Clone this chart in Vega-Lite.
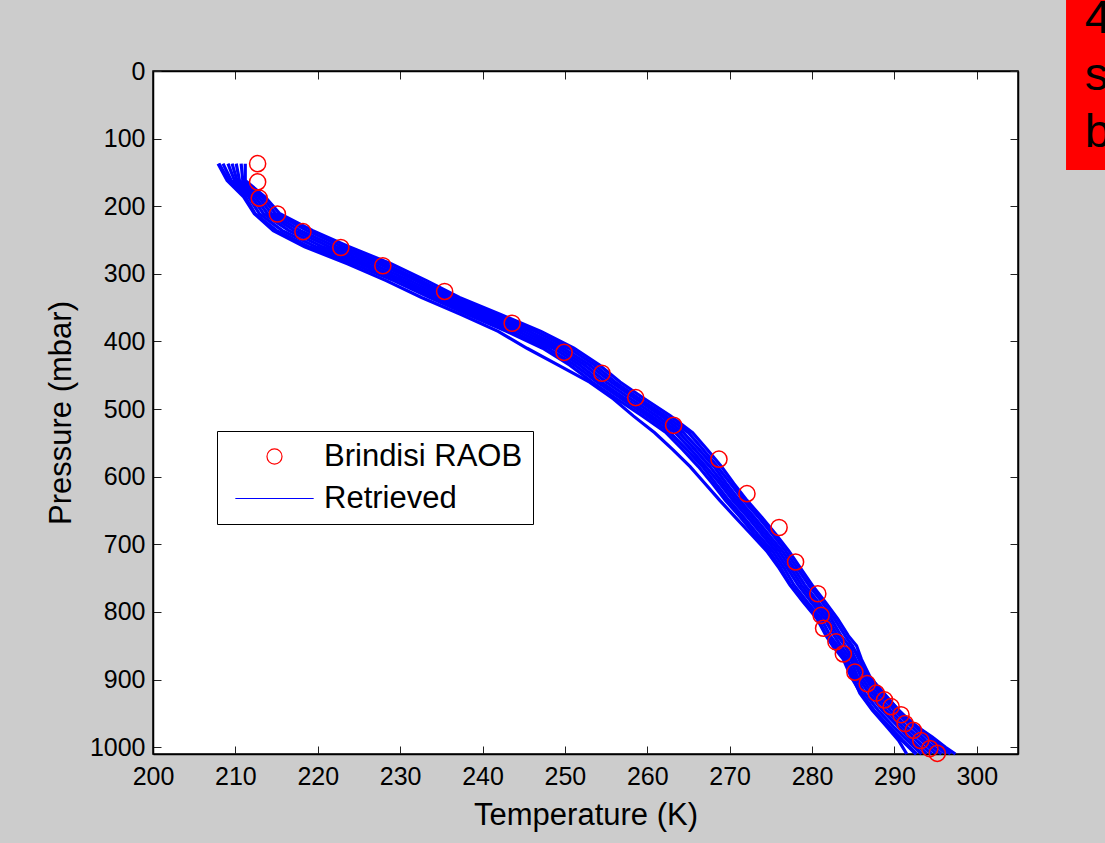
{
"$schema": "https://vega.github.io/schema/vega-lite/v6.json",
"width": 865, "height": 683,
"autosize": {"type": "none"},
"padding": {"left": 153, "top": 71, "right": 87, "bottom": 89},
"background": "#cccccc",
"config": {
  "view": {"fill": "white", "stroke": "black", "strokeWidth": 1.5},
  "font": "Liberation Sans",
  "axis": {"domainColor": "black", "domainWidth": 1.5, "tickColor": "#222222", "tickWidth": 1, "tickSize": -8, "labelFlush": false, "labelFont": "Liberation Sans", "labelFontSize": 25, "labelColor": "black", "titleFont": "Liberation Sans", "titleFontSize": 31, "titleFontWeight": "normal", "titleColor": "black", "grid": false, "zindex": 1},
  "legend": {"strokeColor": "black", "strokeWidth": 1, "fillColor": "white", "padding": 10, "labelFont": "Liberation Sans", "labelFontSize": 31, "labelColor": "black", "labelLimit": 0, "symbolSize": 227, "symbolStrokeWidth": 1.2, "rowPadding": 10, "symbolOffset": 32, "labelOffset": 34, "cornerRadius": 0}
},
"datasets": {
  "box": [{"t1": 310.83, "t2": 320, "p1": -110, "p2": 146.4}],
  "boxtext": [{"t": 313.1, "p": -56.2, "s": "4"}, {"t": 313.1, "p": 28.1, "s": "s"}, {"t": 313.1, "p": 112.4, "s": "b"}],
  "raob": [
    {"t": 212.7, "p": 137}, {"t": 212.7, "p": 164}, {"t": 212.9, "p": 188}, {"t": 215.1, "p": 211.5}, {"t": 218.2, "p": 237.6}, {"t": 222.8, "p": 261}, {"t": 227.9, "p": 288}, {"t": 235.4, "p": 326}, {"t": 243.6, "p": 373}, {"t": 249.9, "p": 416}, {"t": 254.5, "p": 447}, {"t": 258.6, "p": 483}, {"t": 263.2, "p": 524}, {"t": 268.7, "p": 574}, {"t": 272.1, "p": 625}, {"t": 276.0, "p": 675}, {"t": 278.0, "p": 726}, {"t": 280.7, "p": 773}, {"t": 281.1, "p": 805}, {"t": 281.4, "p": 824}, {"t": 282.9, "p": 844}, {"t": 283.8, "p": 862}, {"t": 285.2, "p": 889}, {"t": 286.7, "p": 906}, {"t": 287.8, "p": 920}, {"t": 288.8, "p": 930}, {"t": 289.6, "p": 940}, {"t": 290.8, "p": 952}, {"t": 291.3, "p": 965}, {"t": 292.3, "p": 975}, {"t": 293.2, "p": 990}, {"t": 294.3, "p": 1002}, {"t": 295.2, "p": 1009}
  ],
  "retrieved": [
    {"id": "L1", "p": 137, "t": 208.0}, {"id": "L1", "p": 162, "t": 209.2}, {"id": "L1", "p": 186, "t": 211.2}, {"id": "L1", "p": 211, "t": 212.4}, {"id": "L1", "p": 236, "t": 215.0}, {"id": "L1", "p": 260, "t": 219.0}, {"id": "L1", "p": 285, "t": 224.3}, {"id": "L1", "p": 310, "t": 229.2}, {"id": "L1", "p": 335, "t": 233.6}, {"id": "L1", "p": 360, "t": 238.2}, {"id": "L1", "p": 385, "t": 242.9}, {"id": "L1", "p": 410, "t": 247.3}, {"id": "L1", "p": 435, "t": 250.6}, {"id": "L1", "p": 460, "t": 253.3}, {"id": "L1", "p": 485, "t": 256.3}, {"id": "L1", "p": 510, "t": 259.4}, {"id": "L1", "p": 535, "t": 262.3}, {"id": "L1", "p": 560, "t": 264.3}, {"id": "L1", "p": 585, "t": 266.2}, {"id": "L1", "p": 610, "t": 267.9}, {"id": "L1", "p": 635, "t": 269.5}, {"id": "L1", "p": 660, "t": 271.3}, {"id": "L1", "p": 685, "t": 273.0}, {"id": "L1", "p": 710, "t": 274.8}, {"id": "L1", "p": 735, "t": 276.2}, {"id": "L1", "p": 760, "t": 277.4}, {"id": "L1", "p": 785, "t": 279.0}, {"id": "L1", "p": 810, "t": 280.7}, {"id": "L1", "p": 835, "t": 281.8}, {"id": "L1", "p": 850, "t": 282.6}, {"id": "L1", "p": 870, "t": 284.0}, {"id": "L1", "p": 895, "t": 284.8}, {"id": "L1", "p": 920, "t": 286.0}, {"id": "L1", "p": 945, "t": 287.5}, {"id": "L1", "p": 970, "t": 289.4}, {"id": "L1", "p": 990, "t": 291.0}, {"id": "L1", "p": 1010, "t": 292.7},
    {"id": "L2", "p": 137, "t": 208.5}, {"id": "L2", "p": 162, "t": 209.5}, {"id": "L2", "p": 186, "t": 211.6}, {"id": "L2", "p": 211, "t": 212.9}, {"id": "L2", "p": 236, "t": 215.7}, {"id": "L2", "p": 260, "t": 219.8}, {"id": "L2", "p": 285, "t": 225.1}, {"id": "L2", "p": 310, "t": 229.9}, {"id": "L2", "p": 335, "t": 234.2}, {"id": "L2", "p": 360, "t": 238.9}, {"id": "L2", "p": 385, "t": 243.6}, {"id": "L2", "p": 410, "t": 247.9}, {"id": "L2", "p": 435, "t": 251.2}, {"id": "L2", "p": 460, "t": 253.9}, {"id": "L2", "p": 485, "t": 256.9}, {"id": "L2", "p": 510, "t": 260.0}, {"id": "L2", "p": 535, "t": 262.8}, {"id": "L2", "p": 560, "t": 264.8}, {"id": "L2", "p": 585, "t": 266.7}, {"id": "L2", "p": 610, "t": 268.3}, {"id": "L2", "p": 635, "t": 269.9}, {"id": "L2", "p": 660, "t": 271.7}, {"id": "L2", "p": 685, "t": 273.4}, {"id": "L2", "p": 710, "t": 275.2}, {"id": "L2", "p": 735, "t": 276.6}, {"id": "L2", "p": 760, "t": 277.8}, {"id": "L2", "p": 785, "t": 279.4}, {"id": "L2", "p": 810, "t": 281.1}, {"id": "L2", "p": 835, "t": 282.2}, {"id": "L2", "p": 850, "t": 283.1}, {"id": "L2", "p": 870, "t": 284.3}, {"id": "L2", "p": 895, "t": 285.2}, {"id": "L2", "p": 920, "t": 286.4}, {"id": "L2", "p": 945, "t": 288.0}, {"id": "L2", "p": 970, "t": 289.9}, {"id": "L2", "p": 990, "t": 291.6}, {"id": "L2", "p": 1010, "t": 293.3},
    {"id": "L3", "p": 137, "t": 209.1}, {"id": "L3", "p": 162, "t": 209.9}, {"id": "L3", "p": 186, "t": 212.0}, {"id": "L3", "p": 211, "t": 213.4}, {"id": "L3", "p": 236, "t": 216.5}, {"id": "L3", "p": 260, "t": 220.6}, {"id": "L3", "p": 285, "t": 225.8}, {"id": "L3", "p": 310, "t": 230.5}, {"id": "L3", "p": 335, "t": 234.8}, {"id": "L3", "p": 360, "t": 239.5}, {"id": "L3", "p": 385, "t": 244.3}, {"id": "L3", "p": 410, "t": 248.6}, {"id": "L3", "p": 435, "t": 251.8}, {"id": "L3", "p": 460, "t": 254.4}, {"id": "L3", "p": 485, "t": 257.4}, {"id": "L3", "p": 510, "t": 260.5}, {"id": "L3", "p": 535, "t": 263.4}, {"id": "L3", "p": 560, "t": 265.3}, {"id": "L3", "p": 585, "t": 267.1}, {"id": "L3", "p": 610, "t": 268.8}, {"id": "L3", "p": 635, "t": 270.4}, {"id": "L3", "p": 660, "t": 272.2}, {"id": "L3", "p": 685, "t": 273.9}, {"id": "L3", "p": 710, "t": 275.6}, {"id": "L3", "p": 735, "t": 277.0}, {"id": "L3", "p": 760, "t": 278.3}, {"id": "L3", "p": 785, "t": 279.9}, {"id": "L3", "p": 810, "t": 281.5}, {"id": "L3", "p": 835, "t": 282.7}, {"id": "L3", "p": 850, "t": 283.5}, {"id": "L3", "p": 870, "t": 284.7}, {"id": "L3", "p": 895, "t": 285.5}, {"id": "L3", "p": 920, "t": 286.9}, {"id": "L3", "p": 945, "t": 288.5}, {"id": "L3", "p": 970, "t": 290.5}, {"id": "L3", "p": 990, "t": 292.1}, {"id": "L3", "p": 1010, "t": 293.9},
    {"id": "L4", "p": 137, "t": 209.6}, {"id": "L4", "p": 162, "t": 210.2}, {"id": "L4", "p": 186, "t": 212.4}, {"id": "L4", "p": 211, "t": 213.9}, {"id": "L4", "p": 236, "t": 217.2}, {"id": "L4", "p": 260, "t": 221.4}, {"id": "L4", "p": 285, "t": 226.6}, {"id": "L4", "p": 310, "t": 231.2}, {"id": "L4", "p": 335, "t": 235.4}, {"id": "L4", "p": 360, "t": 240.2}, {"id": "L4", "p": 385, "t": 245.0}, {"id": "L4", "p": 410, "t": 249.2}, {"id": "L4", "p": 435, "t": 252.4}, {"id": "L4", "p": 460, "t": 255.0}, {"id": "L4", "p": 485, "t": 258.0}, {"id": "L4", "p": 510, "t": 261.1}, {"id": "L4", "p": 535, "t": 263.9}, {"id": "L4", "p": 560, "t": 265.8}, {"id": "L4", "p": 585, "t": 267.6}, {"id": "L4", "p": 610, "t": 269.2}, {"id": "L4", "p": 635, "t": 270.8}, {"id": "L4", "p": 660, "t": 272.6}, {"id": "L4", "p": 685, "t": 274.3}, {"id": "L4", "p": 710, "t": 276.0}, {"id": "L4", "p": 735, "t": 277.4}, {"id": "L4", "p": 760, "t": 278.7}, {"id": "L4", "p": 785, "t": 280.3}, {"id": "L4", "p": 810, "t": 281.9}, {"id": "L4", "p": 835, "t": 283.1}, {"id": "L4", "p": 850, "t": 284.0}, {"id": "L4", "p": 870, "t": 285.0}, {"id": "L4", "p": 895, "t": 285.9}, {"id": "L4", "p": 920, "t": 287.3}, {"id": "L4", "p": 945, "t": 289.0}, {"id": "L4", "p": 970, "t": 291.0}, {"id": "L4", "p": 990, "t": 292.7}, {"id": "L4", "p": 1010, "t": 294.5},
    {"id": "L5", "p": 137, "t": 210.1}, {"id": "L5", "p": 162, "t": 210.5}, {"id": "L5", "p": 186, "t": 212.8}, {"id": "L5", "p": 211, "t": 214.4}, {"id": "L5", "p": 236, "t": 217.9}, {"id": "L5", "p": 260, "t": 222.2}, {"id": "L5", "p": 285, "t": 227.4}, {"id": "L5", "p": 310, "t": 231.9}, {"id": "L5", "p": 335, "t": 236.0}, {"id": "L5", "p": 360, "t": 240.9}, {"id": "L5", "p": 385, "t": 245.7}, {"id": "L5", "p": 410, "t": 249.8}, {"id": "L5", "p": 435, "t": 253.0}, {"id": "L5", "p": 460, "t": 255.6}, {"id": "L5", "p": 485, "t": 258.6}, {"id": "L5", "p": 510, "t": 261.7}, {"id": "L5", "p": 535, "t": 264.4}, {"id": "L5", "p": 560, "t": 266.3}, {"id": "L5", "p": 585, "t": 268.1}, {"id": "L5", "p": 610, "t": 269.6}, {"id": "L5", "p": 635, "t": 271.2}, {"id": "L5", "p": 660, "t": 273.0}, {"id": "L5", "p": 685, "t": 274.7}, {"id": "L5", "p": 710, "t": 276.4}, {"id": "L5", "p": 735, "t": 277.8}, {"id": "L5", "p": 760, "t": 279.1}, {"id": "L5", "p": 785, "t": 280.7}, {"id": "L5", "p": 810, "t": 282.3}, {"id": "L5", "p": 835, "t": 283.5}, {"id": "L5", "p": 850, "t": 284.5}, {"id": "L5", "p": 870, "t": 285.3}, {"id": "L5", "p": 895, "t": 286.3}, {"id": "L5", "p": 920, "t": 287.7}, {"id": "L5", "p": 945, "t": 289.5}, {"id": "L5", "p": 970, "t": 291.5}, {"id": "L5", "p": 990, "t": 293.3}, {"id": "L5", "p": 1010, "t": 295.1},
    {"id": "L6", "p": 137, "t": 210.7}, {"id": "L6", "p": 162, "t": 210.9}, {"id": "L6", "p": 186, "t": 213.2}, {"id": "L6", "p": 211, "t": 214.9}, {"id": "L6", "p": 236, "t": 218.7}, {"id": "L6", "p": 260, "t": 223.0}, {"id": "L6", "p": 285, "t": 228.1}, {"id": "L6", "p": 310, "t": 232.5}, {"id": "L6", "p": 335, "t": 236.6}, {"id": "L6", "p": 360, "t": 241.5}, {"id": "L6", "p": 385, "t": 246.4}, {"id": "L6", "p": 410, "t": 250.5}, {"id": "L6", "p": 435, "t": 253.6}, {"id": "L6", "p": 460, "t": 256.1}, {"id": "L6", "p": 485, "t": 259.1}, {"id": "L6", "p": 510, "t": 262.2}, {"id": "L6", "p": 535, "t": 265.0}, {"id": "L6", "p": 560, "t": 266.8}, {"id": "L6", "p": 585, "t": 268.5}, {"id": "L6", "p": 610, "t": 270.1}, {"id": "L6", "p": 635, "t": 271.7}, {"id": "L6", "p": 660, "t": 273.5}, {"id": "L6", "p": 685, "t": 275.2}, {"id": "L6", "p": 710, "t": 276.8}, {"id": "L6", "p": 735, "t": 278.2}, {"id": "L6", "p": 760, "t": 279.6}, {"id": "L6", "p": 785, "t": 281.2}, {"id": "L6", "p": 810, "t": 282.7}, {"id": "L6", "p": 835, "t": 284.0}, {"id": "L6", "p": 850, "t": 284.9}, {"id": "L6", "p": 870, "t": 285.7}, {"id": "L6", "p": 895, "t": 286.6}, {"id": "L6", "p": 920, "t": 288.2}, {"id": "L6", "p": 945, "t": 290.0}, {"id": "L6", "p": 970, "t": 292.1}, {"id": "L6", "p": 990, "t": 293.8}, {"id": "L6", "p": 1010, "t": 295.7},
    {"id": "L7", "p": 137, "t": 211.2}, {"id": "L7", "p": 162, "t": 211.2}, {"id": "L7", "p": 186, "t": 213.6}, {"id": "L7", "p": 211, "t": 215.4}, {"id": "L7", "p": 236, "t": 219.4}, {"id": "L7", "p": 260, "t": 223.8}, {"id": "L7", "p": 285, "t": 228.9}, {"id": "L7", "p": 310, "t": 233.2}, {"id": "L7", "p": 335, "t": 237.2}, {"id": "L7", "p": 360, "t": 242.2}, {"id": "L7", "p": 385, "t": 247.1}, {"id": "L7", "p": 410, "t": 251.1}, {"id": "L7", "p": 435, "t": 254.2}, {"id": "L7", "p": 460, "t": 256.7}, {"id": "L7", "p": 485, "t": 259.7}, {"id": "L7", "p": 510, "t": 262.8}, {"id": "L7", "p": 535, "t": 265.5}, {"id": "L7", "p": 560, "t": 267.3}, {"id": "L7", "p": 585, "t": 269.0}, {"id": "L7", "p": 610, "t": 270.5}, {"id": "L7", "p": 635, "t": 272.1}, {"id": "L7", "p": 660, "t": 273.9}, {"id": "L7", "p": 685, "t": 275.6}, {"id": "L7", "p": 710, "t": 277.2}, {"id": "L7", "p": 735, "t": 278.6}, {"id": "L7", "p": 760, "t": 280.0}, {"id": "L7", "p": 785, "t": 281.6}, {"id": "L7", "p": 810, "t": 283.1}, {"id": "L7", "p": 835, "t": 284.4}, {"id": "L7", "p": 850, "t": 285.4}, {"id": "L7", "p": 870, "t": 286.0}, {"id": "L7", "p": 895, "t": 287.0}, {"id": "L7", "p": 920, "t": 288.6}, {"id": "L7", "p": 945, "t": 290.5}, {"id": "L7", "p": 970, "t": 292.6}, {"id": "L7", "p": 990, "t": 294.4}, {"id": "L7", "p": 1010, "t": 296.3},
    {"id": "SA", "p": 137, "t": 207.9}, {"id": "SA", "p": 162, "t": 209.0}, {"id": "SA", "p": 186, "t": 211.0}, {"id": "SA", "p": 211, "t": 212.3}, {"id": "SA", "p": 236, "t": 214.6}, {"id": "SA", "p": 260, "t": 218.4}, {"id": "SA", "p": 285, "t": 223.6}, {"id": "SA", "p": 310, "t": 228.3}, {"id": "SA", "p": 335, "t": 232.6}, {"id": "SA", "p": 360, "t": 237.4}, {"id": "SA", "p": 385, "t": 241.9}, {"id": "SA", "p": 410, "t": 245.4}, {"id": "SA", "p": 435, "t": 249.2}, {"id": "SA", "p": 460, "t": 253.0}, {"id": "SA", "p": 485, "t": 255.9}, {"id": "SA", "p": 510, "t": 258.3}, {"id": "SA", "p": 535, "t": 260.9}, {"id": "SA", "p": 560, "t": 263.1}, {"id": "SA", "p": 585, "t": 265.2}, {"id": "SA", "p": 610, "t": 267.0}, {"id": "SA", "p": 635, "t": 268.8}, {"id": "SA", "p": 660, "t": 270.7}, {"id": "SA", "p": 685, "t": 272.6}, {"id": "SA", "p": 710, "t": 274.5}, {"id": "SA", "p": 735, "t": 276.0}, {"id": "SA", "p": 760, "t": 277.3}, {"id": "SA", "p": 785, "t": 278.9}, {"id": "SA", "p": 810, "t": 280.6}, {"id": "SA", "p": 835, "t": 281.7}, {"id": "SA", "p": 850, "t": 282.5}, {"id": "SA", "p": 870, "t": 283.8}, {"id": "SA", "p": 895, "t": 284.7}, {"id": "SA", "p": 920, "t": 285.9}, {"id": "SA", "p": 945, "t": 287.4}, {"id": "SA", "p": 970, "t": 289.3}, {"id": "SA", "p": 990, "t": 290.9}, {"id": "SA", "p": 1010, "t": 292.6},
    {"id": "SB", "p": 835, "t": 282.0}, {"id": "SB", "p": 850, "t": 282.8}, {"id": "SB", "p": 870, "t": 284.1}, {"id": "SB", "p": 895, "t": 284.9}, {"id": "SB", "p": 920, "t": 285.8}, {"id": "SB", "p": 945, "t": 287.3}, {"id": "SB", "p": 970, "t": 289.1}, {"id": "SB", "p": 990, "t": 290.5}, {"id": "SB", "p": 1010, "t": 291.5},
    {"id": "SC", "p": 850, "t": 284.8}, {"id": "SC", "p": 870, "t": 285.9}, {"id": "SC", "p": 895, "t": 286.9}, {"id": "SC", "p": 920, "t": 288.7}, {"id": "SC", "p": 945, "t": 290.5}, {"id": "SC", "p": 965, "t": 292.2}, {"id": "SC", "p": 985, "t": 294.6}, {"id": "SC", "p": 1000, "t": 296.2}, {"id": "SC", "p": 1010, "t": 297.4},
    {"id": "SD", "p": 895, "t": 286.5}, {"id": "SD", "p": 920, "t": 288.2}, {"id": "SD", "p": 945, "t": 290.2}, {"id": "SD", "p": 970, "t": 292.8}, {"id": "SD", "p": 990, "t": 294.9}, {"id": "SD", "p": 1010, "t": 296.8}
  ]
},
"layer": [
  {
    "data": {"name": "box"},
    "mark": {"type": "rect", "fill": "#ff0000"},
    "encoding": {
      "x": {"field": "t1", "type": "quantitative", "axis": null, "scale": {"domain": [200, 305], "nice": false, "zero": false}},
      "x2": {"field": "t2"},
      "y": {"field": "p1", "type": "quantitative", "axis": null, "scale": {"domain": [0, 1010], "nice": false, "reverse": true}},
      "y2": {"field": "p2"}
    }
  },
  {
    "data": {"name": "boxtext"},
    "mark": {"type": "text", "align": "left", "baseline": "alphabetic", "fontSize": 47, "font": "Liberation Sans", "color": "black"},
    "encoding": {
      "x": {"field": "t", "type": "quantitative", "axis": null},
      "y": {"field": "p", "type": "quantitative", "axis": null},
      "text": {"field": "s"}
    }
  },
  {
    "data": {"name": "retrieved"},
    "mark": {"type": "line", "strokeWidth": 3.2},
    "encoding": {
      "x": {"field": "t", "type": "quantitative", "scale": {"domain": [200, 305], "nice": false, "zero": false},
        "axis": {"values": [200, 210, 220, 230, 240, 250, 260, 270, 280, 290, 300], "format": "d", "title": "Temperature (K)", "labelPadding": 18, "titlePadding": 11}},
      "y": {"field": "p", "type": "quantitative", "scale": {"domain": [0, 1010], "nice": false, "reverse": true},
        "axis": {"values": [0, 100, 200, 300, 400, 500, 600, 700, 800, 900, 1000], "format": "d", "title": "Pressure (mbar)", "labelPadding": 16, "titlePadding": 12}},
      "detail": {"field": "id", "type": "nominal"},
      "order": {"field": "p", "type": "quantitative"},
      "color": {"datum": "Retrieved", "type": "nominal",
        "scale": {"domain": ["Brindisi RAOB", "Retrieved"], "range": ["#ff0000", "#0000ff"]},
        "legend": {"title": null, "orient": "none", "legendX": 64, "legendY": 360,
          "encode": {"symbols": {"update": {
            "shape": {"signal": "datum.value === 'Retrieved' ? 'M-5.2,0L5.2,0' : 'circle'"},
            "stroke": {"signal": "datum.value === 'Retrieved' ? '#0000ff' : '#ff0000'"},
            "fill": {"value": "transparent"},
            "strokeWidth": {"value": 1.2},
            "opacity": {"value": 1}}}}}}
    }
  },
  {
    "data": {"name": "raob"},
    "mark": {"type": "point", "filled": false, "strokeWidth": 1.5, "opacity": 1, "size": 260, "shape": "circle"},
    "encoding": {
      "x": {"field": "t", "type": "quantitative",
        "axis": {"orient": "top", "labels": false, "title": null, "values": [200, 210, 220, 230, 240, 250, 260, 270, 280, 290, 300]}},
      "y": {"field": "p", "type": "quantitative",
        "axis": {"orient": "right", "labels": false, "title": null, "values": [0, 100, 200, 300, 400, 500, 600, 700, 800, 900, 1000]}},
      "color": {"datum": "Brindisi RAOB", "type": "nominal",
        "scale": {"domain": ["Brindisi RAOB", "Retrieved"], "range": ["#ff0000", "#0000ff"]},
        "legend": {"title": null, "orient": "none", "legendX": 64, "legendY": 360,
          "encode": {"symbols": {"update": {
            "shape": {"signal": "datum.value === 'Retrieved' ? 'M-5.2,0L5.2,0' : 'circle'"},
            "stroke": {"signal": "datum.value === 'Retrieved' ? '#0000ff' : '#ff0000'"},
            "fill": {"value": "transparent"},
            "strokeWidth": {"value": 1.2},
            "opacity": {"value": 1}}}}}}
    }
  }
],
"resolve": {"axis": {"x": "independent", "y": "independent"}}
}
